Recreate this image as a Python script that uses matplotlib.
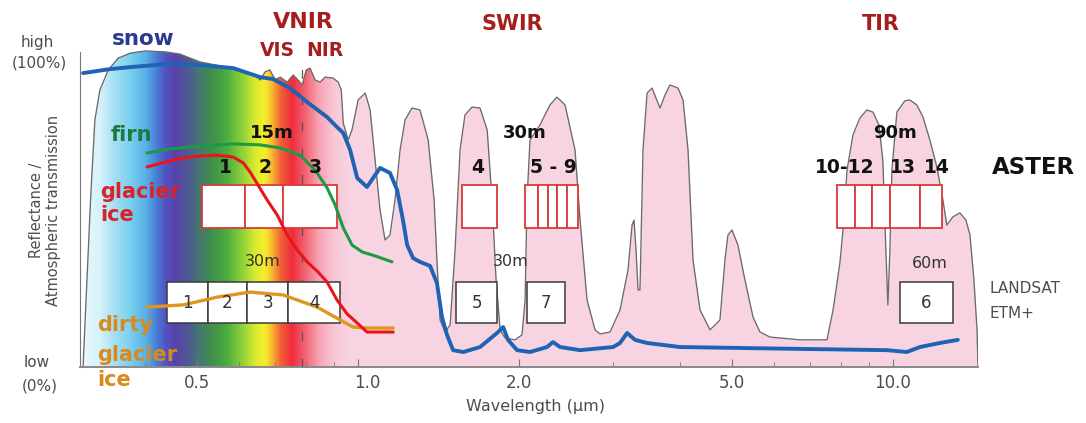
import numpy as np
import matplotlib
matplotlib.use('Agg')
import matplotlib.pyplot as plt
import matplotlib.transforms as mtransforms
from matplotlib.colors import LinearSegmentedColormap
from matplotlib.ticker import NullFormatter

plt.rcParams['font.family'] = ['DejaVu Sans']

# ---------------- data ----------------
# atmospheric transmission (%), wavelength in micrometres
atm_wl = [0.306, 0.310, 0.316, 0.322, 0.329, 0.341, 0.356, 0.375, 0.400, 0.436,
          0.464, 0.506, 0.552, 0.602, 0.642, 0.656, 0.670, 0.684, 0.700, 0.715,
          0.737, 0.756, 0.772, 0.786, 0.800, 0.813, 0.831, 0.849, 0.867, 0.898,
          0.918, 0.930, 0.938, 0.958, 0.974, 1.000, 1.031, 1.053, 1.076, 1.099,
          1.123, 1.147, 1.172, 1.198, 1.224, 1.261, 1.305, 1.352, 1.387, 1.404,
          1.423, 1.454, 1.486, 1.518, 1.551, 1.584, 1.633, 1.690, 1.743, 1.780,
          1.811, 1.843, 1.882, 1.965, 2.025, 2.052, 2.069, 2.096, 2.188, 2.284,
          2.354, 2.437, 2.544, 2.600, 2.679, 2.773, 2.833, 2.958, 3.088, 3.196,
          3.252, 3.280, 3.308, 3.337, 3.365, 3.409, 3.469, 3.544, 3.668, 3.748,
          3.829, 3.964, 4.050, 4.138, 4.228, 4.357, 4.549, 4.748, 4.851, 4.914,
          5.000, 5.130, 5.287, 5.475, 5.641, 5.888, 6.702, 7.528, 7.726, 7.826,
          7.961, 8.064, 8.205, 8.418, 8.673, 8.938, 9.173, 9.414, 9.573, 9.699,
          9.783, 9.868, 9.954, 10.17, 10.52, 10.75, 11.08, 11.38, 11.72, 12.08,
          12.40, 12.61, 12.94, 13.34, 13.69, 13.93, 14.17, 14.36, 14.42]
atm_val = [0, 21.5, 53.5, 79.2, 88.8, 95.2, 99.0, 100.6, 101.3, 101.0,
           100.3, 97.8, 96.5, 95.2, 93.6, 92.0, 94.6, 95.2, 92.0, 92.9,
           91.3, 93.6, 92.0, 90.4, 95.2, 95.8, 92.0, 91.3, 92.9, 92.6,
           91.3, 88.8, 78.2, 72.8, 76.0, 85.6, 87.8, 82.4, 66.3, 50.3,
           40.7, 42.3, 53.5, 69.6, 79.2, 83.0, 82.4, 72.8, 53.5, 34.3,
           15.1, 11.2, 13.5, 37.5, 69.6, 80.8, 83.3, 83.0, 76.0, 53.5,
           27.9, 11.9, 9.3, 8.7, 10.3, 21.5, 53.5, 72.8, 77.6, 84.0,
           86.5, 84.0, 69.6, 47.1, 21.5, 11.9, 10.6, 11.2, 18.3, 31.1,
           45.5, 47.1, 37.5, 24.7, 24.7, 69.6, 87.8, 89.4, 83.0, 87.2,
           90.4, 89.4, 85.6, 69.6, 34.3, 18.3, 11.9, 15.1, 34.3, 42.3,
           43.9, 39.1, 27.9, 16.0, 11.2, 9.6, 8.7, 8.7, 18.3, 24.7,
           33.7, 43.9, 63.1, 74.4, 79.8, 82.4, 81.7, 77.6, 66.3, 37.5,
           19.9, 37.5, 63.1, 81.7, 85.3, 85.6, 84.0, 80.1, 72.8, 64.1,
           53.5, 45.5, 48.1, 49.4, 47.1, 42.3, 27.9, 11.9, 0]

snow_wl = [0.306, 0.344, 0.380, 0.440, 0.506, 0.584, 0.656, 0.693, 0.746, 0.803,
           0.875, 0.913, 0.938, 0.966, 0.996, 1.039, 1.067, 1.099, 1.147, 1.183,
           1.213, 1.235, 1.267, 1.305, 1.363, 1.404, 1.435, 1.466, 1.505, 1.572,
           1.690, 1.819, 1.867, 1.907, 1.982, 2.096, 2.255, 2.314, 2.385, 2.600,
           2.997, 3.088, 3.183, 3.294, 3.469, 3.998, 5.176, 6.702, 9.741, 10.61,
           11.23, 12.24, 13.22]
snow_val = [94.2, 95.5, 96.2, 97.1, 96.8, 95.8, 92.9, 92.3, 89.4, 84.9,
            80.1, 76.9, 75.0, 69.6, 60.6, 57.7, 60.6, 63.8, 62.2, 56.7,
            47.1, 39.1, 34.9, 33.7, 32.4, 26.9, 16.0, 10.3, 5.4, 4.8,
            6.4, 10.9, 12.8, 8.7, 5.4, 4.8, 6.4, 8.0, 6.4, 5.4,
            6.4, 7.7, 10.9, 8.7, 7.7, 6.4, 6.1, 5.8, 5.4, 4.8,
            6.4, 7.7, 8.7]

firn_wl = [0.403, 0.445, 0.506, 0.584, 0.656, 0.715, 0.779, 0.831, 0.875, 0.906,
           0.938, 0.974, 1.017, 1.076, 1.157]
firn_val = [68.6, 69.9, 70.8, 71.5, 71.2, 70.2, 67.9, 63.1, 57.4, 51.9,
            44.6, 39.1, 36.9, 35.6, 33.7]

glacier_wl = [0.403, 0.436, 0.471, 0.506, 0.545, 0.584, 0.610, 0.628, 0.650, 0.676,
              0.706, 0.737, 0.769, 0.803, 0.842, 0.875, 0.913, 0.954, 0.996, 1.039,
              1.163]
glacier_val = [64.1, 65.7, 67.0, 67.6, 67.9, 67.3, 65.4, 62.5, 58.3, 53.5,
               48.7, 42.3, 37.5, 33.7, 30.4, 27.2, 21.5, 17.0, 14.1, 11.2,
               11.2]

dirty_wl = [0.403, 0.471, 0.545, 0.628, 0.724, 0.838, 0.925, 0.979, 1.039, 1.163]
dirty_val = [19.2, 19.9, 22.4, 24.0, 23.1, 19.2, 15.1, 12.8, 12.5, 12.5]

rainbow_wl = [0.306, 0.329, 0.351, 0.375, 0.400, 0.417, 0.436, 0.455, 0.481, 0.506,
              0.533, 0.571, 0.607, 0.642, 0.670, 0.693, 0.721, 0.753, 0.796, 0.842,
              0.906, 0.966]
rainbow_colors = ['#eaf8fc', '#d4f1fa', '#a2def3', '#78cfee', '#58b0e6', '#4a84d8',
                  '#5052c2', '#5842aa', '#4e5a94', '#44786e', '#3f8e4c', '#4caf3c',
                  '#8ccf3a', '#d8ea30', '#f4ee2a', '#f8b030', '#f25a38', '#ee2c3c',
                  '#f26070', '#f6a0b0', '#f8c8d6', '#f8d4e2']

# ASTER band edges (micrometres)
aster_vnir_edges = [0.511, 0.615, 0.724, 0.913]
aster_b4_edges = [1.564, 1.819]
aster_b59_edges = [2.052, 2.170, 2.265, 2.354, 2.458, 2.577]
aster_tir_edges = [7.86, 8.49, 9.13, 9.87, 11.23, 12.35]
# Landsat ETM+ band edges
landsat_vnir_edges = [0.440, 0.524, 0.620, 0.740, 0.925]
landsat_b5_edges = [1.524, 1.819]
landsat_b7_edges = [2.069, 2.437]
landsat_b6_edges = [10.30, 12.94]
landsat_labels = ['1', '2', '3', '4', '5', '7', '6']

vis_nir_split = 0.786
tick_vals = [0.5, 1.0, 2.0, 5.0, 10.0]
tick_labels = ['0.5', '1.0', '2.0', '5.0', '10.0']

# ---------------- figure ----------------
W, H = 1086, 423
PINK = '#f8d4e2'
GRAY = '#4d4d4d'
fig = plt.figure(figsize=(W / 100, H / 100), dpi=100)
ax = fig.add_axes([80 / W, (H - 367) / H, 898 / W, 343.2 / H])
ax.set_xscale('log')
ax.set_xlim(0.302, 14.42)
ax.set_ylim(0, 110)

# atmospheric transmission fill + rainbow under the visible part
fill = ax.fill_between(atm_wl, 0, atm_val, color=PINK, lw=0, zorder=1)
lmin, lmax = np.log10(rainbow_wl[0]), np.log10(rainbow_wl[-1])
pos = list((np.log10(rainbow_wl) - lmin) / (lmax - lmin))
pos[0], pos[-1] = 0.0, 1.0
cmap = LinearSegmentedColormap.from_list('vis', list(zip(pos, rainbow_colors)))
xe = np.geomspace(0.302, 1.0, 400)
ye = np.array([0.0, 105.0])
xc = np.sqrt(xe[:-1] * xe[1:])
mesh = ax.pcolormesh(xe, ye, np.log10(xc)[None, :], cmap=cmap, vmin=lmin, vmax=lmax,
                     shading='flat', zorder=1.5, linewidth=0, antialiased=False)
mesh.set_clip_path(fill.get_paths()[0], ax.transData)
ax.plot(atm_wl, atm_val, color='#6a6a6a', lw=0.95, zorder=2)

# VIS / NIR divider
ax.plot([vis_nir_split, vis_nir_split], [0, 96], color='#555555', lw=0.9,
        ls=(0, (7, 14)), zorder=3)

# band boxes
def boxes(edges, y0, h, ec, lw):
    lo = np.array(edges[:-1])
    hi = np.array(edges[1:])
    ax.bar(lo, h, width=hi - lo, bottom=y0, align='edge', facecolor='white',
           edgecolor=ec, linewidth=lw, zorder=4)

AST_Y, AST_H = 44.6, 13.7
LS_Y, LS_H = 14.1, 13.1
for e in (aster_vnir_edges, aster_b4_edges, aster_b59_edges, aster_tir_edges):
    boxes(e, AST_Y, AST_H, '#d83a3a', 1.3)
for e in (landsat_vnir_edges, landsat_b5_edges, landsat_b7_edges, landsat_b6_edges):
    boxes(e, LS_Y, LS_H, '#3a3a3a', 1.1)

# landsat labels inside boxes
ls_centers = []
for e in (landsat_vnir_edges, landsat_b5_edges, landsat_b7_edges, landsat_b6_edges):
    for a, b in zip(e[:-1], e[1:]):
        ls_centers.append(np.sqrt(a * b))
for xc_, lab in zip(ls_centers, landsat_labels):
    ax.text(xc_, LS_Y + LS_H / 2, lab, ha='center', va='center', fontsize=12,
            color='#333333', zorder=7)

# reflectance curves
kw = dict(solid_joinstyle='round', solid_capstyle='round')
ax.plot(dirty_wl, dirty_val, color='#e0961e', lw=2.4, zorder=6, **kw)
ax.plot(glacier_wl, glacier_val, color='#e8161c', lw=2.2, zorder=6, **kw)
ax.plot(firn_wl, firn_val, color='#1c9a46', lw=2.2, zorder=6, **kw)
ax.plot(snow_wl, snow_val, color='#1f63b4', lw=2.8, zorder=6.5, **kw)

# ASTER labels
bold = dict(ha='center', va='center', fontweight='bold', color='#111111', zorder=7)
for x, t in [(0.564, '1'), (0.670, '2'), (0.831, '3'), (1.676, '4'), (2.314, '5 - 9'),
             (8.134, '10-12'), (10.43, '13'), (12.08, '14')]:
    ax.text(x, 64.1, t, fontsize=13.5, **bold)
for x, t in [(0.691, '15m'), (2.052, '30m'), (10.08, '90m')]:
    ax.text(x, 75.0, t, fontsize=13, **bold)
ax.text(18.3, 64.1, 'ASTER', fontsize=16.5, **bold)

# Landsat annotations
for x, y, t in [(0.662, 33.7, '30m'), (1.932, 33.7, '30m'), (11.72, 33.3, '60m')]:
    ax.text(x, y, t, ha='center', va='center', fontsize=11.5, color='#333333', zorder=7)
ax.text(15.18, 25.3, 'LANDSAT', ha='left', va='center', fontsize=11, color=GRAY)
ax.text(15.18, 17.3, 'ETM+', ha='left', va='center', fontsize=11, color=GRAY)

# region titles
red = '#a51d1d'
ax.text(0.789, 110.6, 'VNIR', ha='center', va='center', fontsize=16, fontweight='bold', color=red)
ax.text(0.706, 101.6, 'VIS', ha='center', va='center', fontsize=13.5, fontweight='bold', color=red)
ax.text(0.867, 101.6, 'NIR', ha='center', va='center', fontsize=13.5, fontweight='bold', color=red)
ax.text(1.940, 109.9, 'SWIR', ha='center', va='center', fontsize=15, fontweight='bold', color=red)
ax.text(9.49, 109.9, 'TIR', ha='center', va='center', fontsize=15, fontweight='bold', color=red)

# surface labels
ax.text(0.396, 105.1, 'snow', ha='center', va='center', fontsize=15.5, fontweight='bold', color='#2b3990', zorder=7)
ax.text(0.376, 74.4, 'firn', ha='center', va='center', fontsize=15, fontweight='bold', color='#1b7a3c', zorder=7)
ax.text(0.329, 56.1, 'glacier', ha='left', va='center', fontsize=15, fontweight='bold', color='#d9232a', zorder=7)
ax.text(0.329, 48.7, 'ice', ha='left', va='center', fontsize=15, fontweight='bold', color='#d9232a', zorder=7)
ax.text(0.325, 13.5, 'dirty', ha='left', va='center', fontsize=15, fontweight='bold', color='#d98a1e', zorder=7)
ax.text(0.325, 3.8, 'glacier', ha='left', va='center', fontsize=15, fontweight='bold', color='#d98a1e', zorder=7)
ax.text(0.325, -4.2, 'ice', ha='left', va='center', fontsize=15, fontweight='bold', color='#d98a1e', zorder=7)

# axes styling
for s in ('top', 'right'):
    ax.spines[s].set_visible(False)
ax.spines['left'].set_bounds(0, 101)
ax.spines['left'].set_color('#777777')
ax.spines['bottom'].set_color('#8a8a8a')
ax.spines['bottom'].set_linewidth(1.4)
ax.set_yticks([])
ax.set_xticks(tick_vals)
ax.set_xticklabels(tick_labels)
ax.xaxis.set_minor_formatter(NullFormatter())
ax.tick_params(axis='x', which='major', direction='in', length=6, color='#777777',
               labelsize=12, labelcolor=GRAY, pad=5)
ax.tick_params(axis='x', which='minor', direction='in', length=3.5, color='#777777')
# in the reference the "1.0" label sits slightly right of its tick
majors = ax.xaxis.get_major_ticks()
lab1 = majors[1].label1
lab1.set_transform(lab1.get_transform() +
                   mtransforms.ScaledTranslation(9 / 100, 0, fig.dpi_scale_trans))

def ftext(x, y, s, **k):
    fig.text(x / W, 1 - y / H, s, **k)

ftext(37, 42, 'high', ha='center', va='center', fontsize=11, color=GRAY)
ftext(39, 63, '(100%)', ha='center', va='center', fontsize=11, color=GRAY)
ftext(37, 362, 'low', ha='center', va='center', fontsize=11, color=GRAY)
ftext(40, 386, '(0%)', ha='center', va='center', fontsize=11, color=GRAY)
ftext(45, 210, 'Reflectance /\nAtmospheric transmission', ha='center', va='center',
      rotation=90, fontsize=10.5, color=GRAY, linespacing=1.1)
ftext(536, 406, 'Wavelength (µm)', ha='center', va='center', fontsize=11.5, color=GRAY)

fig.savefig('out.png', dpi=100)
